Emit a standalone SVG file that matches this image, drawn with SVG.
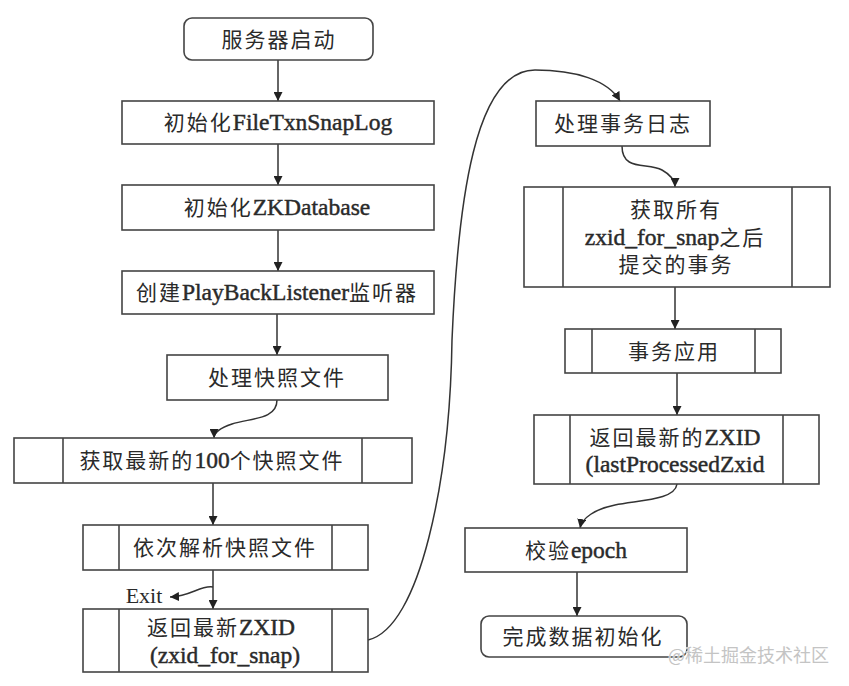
<svg xmlns="http://www.w3.org/2000/svg" width="849" height="686" viewBox="0 0 849 686">
<defs>
<marker id="ah" viewBox="0 0 10 10" refX="10" refY="5" markerWidth="9" markerHeight="9" markerUnits="userSpaceOnUse" orient="auto">
<path d="M0,0 L10,5 L0,10 Z" fill="#222"/>
</marker>
<style>
.box{fill:#fff;stroke:#444;stroke-width:1.6}
.in{stroke:#444;stroke-width:1.6;fill:none}
.t{font-family:"Liberation Serif","Noto Sans CJK SC",serif;font-size:21px;letter-spacing:2px;fill:#2a2a2a;text-anchor:middle}
.l{font-size:23.5px;letter-spacing:0;stroke:#2a2a2a;stroke-width:0.45}
.c{stroke:#333;stroke-width:1.5;fill:none;marker-end:url(#ah)}
.wm{font-family:"Noto Sans CJK SC",sans-serif;font-size:18px;fill:#c4c4c4;stroke:#fff;stroke-width:0.6;paint-order:stroke}
</style>
</defs>
<rect width="849" height="686" fill="#fff"/>

<g id="connectors">
<path class="c" d="M278,60 L278,101"/>
<path class="c" d="M278,144 L278,185"/>
<path class="c" d="M278,230 L278,271"/>
<path class="c" d="M277,314 L277,355"/>
<path class="c" d="M277,400 C277,420 250,418 232,424 C220,428 214,432 214,438"/>
<path class="c" d="M213,483 L213,525"/>
<path class="c" d="M213,570 L213,609"/>
<path class="c" d="M213,587 C200,585 192,596 170,597"/>
<path class="c" d="M368,640 C420,628 450,480 452,340 C458,200 475,70 535,70 C575,70 608,80 620,101"/>
<path class="c" d="M622,146 C622,172 648,162 662,170 C671,175 675,181 675,187"/>
<path class="c" d="M675,287 L675,329"/>
<path class="c" d="M677,373 L677,415"/>
<path class="c" d="M677,484 C675,500 640,500 615,505 C595,509 582,518 580,528"/>
<path class="c" d="M577,572 L577,616"/>
</g>

<g id="n1">
<rect class="box" x="184" y="18" width="189" height="42" rx="8"/>
<text class="t" x="279" y="47">服务器启动</text>
</g>
<g id="n2">
<rect class="box" x="122" y="101" width="312" height="43"/>
<text class="t" x="278" y="130">初始化<tspan class="l">FileTxnSnapLog</tspan></text>
</g>
<g id="n3">
<rect class="box" x="122" y="185" width="312" height="45"/>
<text class="t" x="277" y="215">初始化<tspan class="l">ZKDatabase</tspan></text>
</g>
<g id="n4">
<rect class="box" x="122" y="271" width="312" height="43"/>
<text class="t" x="277" y="300">创建<tspan class="l">PlayBackListener</tspan>监听器</text>
</g>
<g id="n5">
<rect class="box" x="167" y="355" width="221" height="45"/>
<text class="t" x="277" y="385">处理快照文件</text>
</g>
<g id="n6">
<rect class="box" x="14" y="438" width="398" height="45"/>
<line class="in" x1="63" y1="438" x2="63" y2="483"/>
<line class="in" x1="362" y1="438" x2="362" y2="483"/>
<text class="t" x="212" y="468">获取最新的<tspan class="l">100</tspan>个快照文件</text>
</g>
<g id="n7">
<rect class="box" x="83" y="525" width="285" height="45"/>
<line class="in" x1="119" y1="525" x2="119" y2="570"/>
<line class="in" x1="332" y1="525" x2="332" y2="570"/>
<text class="t" x="225" y="555">依次解析快照文件</text>
</g>
<g id="exit">
<text class="t" x="144" y="603" style="font-size:22px;letter-spacing:0">Exit</text>
</g>
<g id="n8">
<rect class="box" x="83" y="609" width="285" height="63"/>
<line class="in" x1="119" y1="609" x2="119" y2="672"/>
<line class="in" x1="332" y1="609" x2="332" y2="672"/>
<text class="t" x="221" y="635">返回最新<tspan class="l">ZXID</tspan></text>
<text class="t l" x="225" y="663">(zxid_for_snap)</text>
</g>

<g id="n9">
<rect class="box" x="536" y="101" width="174" height="45"/>
<text class="t" x="623" y="131">处理事务日志</text>
</g>
<g id="n10">
<rect class="box" x="524" y="187" width="306" height="100"/>
<line class="in" x1="563" y1="187" x2="563" y2="287"/>
<line class="in" x1="792" y1="187" x2="792" y2="287"/>
<text class="t" x="676" y="217">获取所有</text>
<text class="t" x="675" y="245"><tspan class="l">zxid_for_snap</tspan>之后</text>
<text class="t" x="676" y="272">提交的事务</text>
</g>
<g id="n11">
<rect class="box" x="565" y="329" width="216" height="44"/>
<line class="in" x1="592" y1="329" x2="592" y2="373"/>
<line class="in" x1="755" y1="329" x2="755" y2="373"/>
<text class="t" x="674" y="359">事务应用</text>
</g>
<g id="n12">
<rect class="box" x="534" y="415" width="285" height="69"/>
<line class="in" x1="570" y1="415" x2="570" y2="484"/>
<line class="in" x1="783" y1="415" x2="783" y2="484"/>
<text class="t" x="675" y="445">返回最新的<tspan class="l">ZXID</tspan></text>
<text class="t l" x="675" y="472">(lastProcessedZxid</text>
</g>
<g id="n13">
<rect class="box" x="465" y="528" width="222" height="44"/>
<text class="t" x="576" y="558">校验<tspan class="l">epoch</tspan></text>
</g>
<g id="n14">
<rect class="box" x="481" y="616" width="206" height="41" rx="8"/>
<text class="t" x="583" y="644">完成数据初始化</text>
</g>

<text class="wm" x="668" y="662">@稀土掘金技术社区</text>
</svg>
